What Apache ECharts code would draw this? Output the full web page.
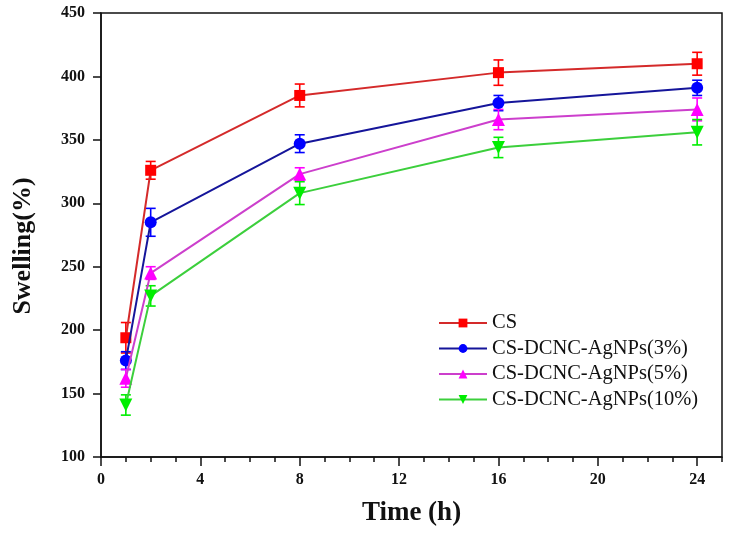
<!DOCTYPE html>
<html>
<head>
<meta charset="utf-8">
<script src="https://cdn.jsdelivr.net/npm/echarts@6/dist/echarts.min.js"></script>
<style>html,body{margin:0;padding:0;background:#fff}#chart{width:731px;height:534px}</style>
</head>
<body>
<div id="chart"></div>
<script>
var timeX = [1, 2, 8, 16, 24];
var seriesNames = ['CS', 'CS-DCNC-AgNPs(3%)', 'CS-DCNC-AgNPs(5%)', 'CS-DCNC-AgNPs(10%)'];
var csVals = [194, 326, 385, 403, 410];
var csErr = [12, 7, 9, 10, 9];
var p3Vals = [176, 285, 347, 379, 391];
var p3Err = [7, 11, 7, 6, 6];
var p5Vals = [162, 245, 323, 366, 374];
var p5Err = [7, 5, 5, 8, 9];
var p10Vals = [141, 227, 308, 344, 356];
var p10Err = [8, 8, 9, 8, 10];
var xMajorLabels = [0, 4, 8, 12, 16, 20, 24];

var allVals = [csVals, p3Vals, p5Vals, p10Vals];
var allErr = [csErr, p3Err, p5Err, p10Err];
var lineColors = ['#d42a2a', '#15159a', '#cc3fcc', '#3ccf3c'];
var markColors = ['#ff0000', '#0000ff', '#ff00ff', '#00ee00'];
var symbols = ['rect', 'circle', 'triangle', 'triangle'];
var symSizes = [11, 12, 13, 13];
var symRot = [0, 0, 0, 180];

var font = 'Liberation Serif';
var series = [];
for (var s = 0; s < 4; s++) {
  (function (s) {
    var errData = timeX.map(function (x, i) {
      return [x, allVals[s][i] - allErr[s][i], allVals[s][i] + allErr[s][i]];
    });
    series.push({
      type: 'custom',
      name: seriesNames[s] + '_err',
      z: 3,
      silent: true,
      data: errData,
      encode: {x: 0, y: [1, 2]},
      renderItem: function (params, api) {
        var lo = api.coord([api.value(0), api.value(1)]);
        var hi = api.coord([api.value(0), api.value(2)]);
        var hw = 5;
        var st = {stroke: markColors[s], lineWidth: 1.6};
        return {
          type: 'group',
          children: [
            {type: 'line', shape: {x1: lo[0], y1: lo[1], x2: hi[0], y2: hi[1]}, style: st},
            {type: 'line', shape: {x1: lo[0] - hw, y1: lo[1], x2: lo[0] + hw, y2: lo[1]}, style: st},
            {type: 'line', shape: {x1: hi[0] - hw, y1: hi[1], x2: hi[0] + hw, y2: hi[1]}, style: st}
          ]
        };
      }
    });
    series.push({
      type: 'line',
      name: seriesNames[s],
      z: 4 + s,
      data: timeX.map(function (x, i) { return [x, allVals[s][i]]; }),
      symbol: symbols[s],
      symbolSize: symSizes[s],
      symbolRotate: symRot[s],
      showAllSymbol: true,
      lineStyle: {color: lineColors[s], width: 2},
      itemStyle: {color: markColors[s], borderWidth: 0},
      emphasis: {disabled: true},
      animation: false
    });
  })(s);
}

var chart = echarts.init(document.getElementById('chart'), null, {renderer: 'canvas'});
chart.setOption({
  animation: false,
  backgroundColor: '#ffffff',
  grid: {left: 101, top: 13, right: 9, bottom: 77, show: true, borderColor: '#111', borderWidth: 1.5, backgroundColor: 'transparent'},
  legend: {
    data: seriesNames,
    orient: 'vertical',
    left: 433,
    top: 307,
    itemWidth: 48,
    itemHeight: 11,
    itemGap: 3.5,
    textStyle: {fontFamily: font, fontSize: 20.5, lineHeight: 22, color: '#111'},
    inactiveColor: '#ccc'
  },
  xAxis: [{
    type: 'value',
    min: 0, max: 25, interval: 1,
    position: 'bottom',
    name: 'Time (h)',
    nameLocation: 'middle',
    nameGap: 43,
    nameTextStyle: {fontFamily: font, fontSize: 27, fontWeight: 'bold', color: '#111'},
    axisLine: {show: true, lineStyle: {color: '#111', width: 1.5}},
    axisTick: {show: true, inside: false, length: 5, lineStyle: {color: '#111', width: 1.5}},
    axisLabel: {customValues: xMajorLabels, fontFamily: font, fontSize: 16, fontWeight: 'bold', color: '#111', margin: 15},
    splitLine: {show: false}
  }, {
    type: 'value',
    min: 0, max: 25, interval: 1,
    position: 'bottom',
    axisLine: {show: false},
    axisTick: {show: true, inside: false, length: 9, customValues: xMajorLabels, lineStyle: {color: '#111', width: 1.5}},
    axisLabel: {show: false},
    splitLine: {show: false}
  }],
  yAxis: {
    type: 'value',
    min: 100, max: 450, interval: 50,
    name: 'Swelling(%)',
    nameLocation: 'middle',
    nameGap: 65,
    nameRotate: 90,
    nameTextStyle: {fontFamily: font, fontSize: 26, fontWeight: 'bold', color: '#111', padding: [0, 22, 0, 0]},
    axisLine: {show: true, lineStyle: {color: '#111', width: 1.5}},
    axisTick: {show: true, inside: false, length: 8, lineStyle: {color: '#111', width: 1.5}},
    axisLabel: {fontFamily: font, fontSize: 16, fontWeight: 'bold', color: '#111', margin: 16},
    splitLine: {show: false}
  },
  series: series
});
</script>
</body>
</html>
